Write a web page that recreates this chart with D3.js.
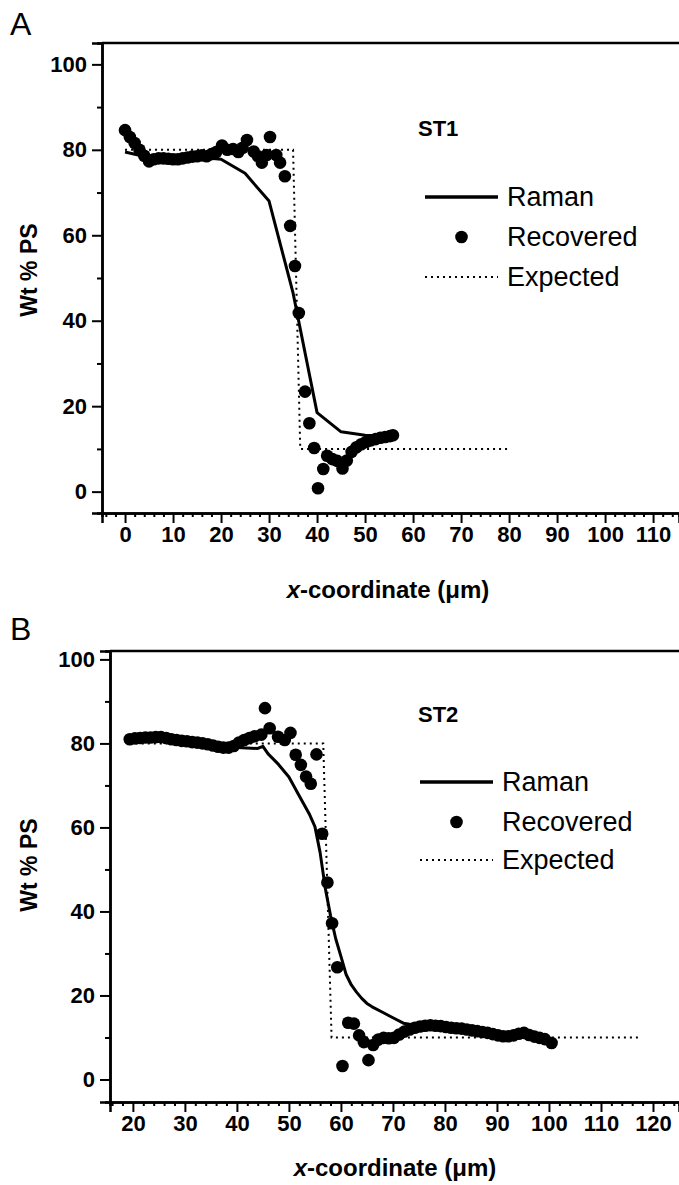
<!DOCTYPE html>
<html>
<head>
<meta charset="utf-8">
<script src="https://cdn.jsdelivr.net/npm/d3@7"></script>
<style>
  body { margin: 0; background: #fff; }
  svg { display: block; font-family: "Liberation Sans", Arial, sans-serif; }
</style>
</head>
<body>
<script>
// ---- panel A (ST1) ----
var aRamanX = [0, 5, 10, 15, 20, 25, 30, 35, 40, 45, 50, 55];
var aRamanY = [79.5, 78.2, 77.8, 78.3, 77.8, 74.5, 68, 46.5, 18.5, 14, 13.2, 13];
var aRecX = [0, 1, 2, 3, 4, 5, 6, 7, 8, 9, 10, 11, 12, 13, 14, 15, 16, 17, 18, 19,
  20.2, 21.3, 22.5, 23.6, 24.5, 25.4, 26.8, 27.7, 28.5, 29.5, 30.2, 31.5, 32.3, 33.3,
  34.4, 35.4, 36.2, 37.5, 38.4, 39.4, 40.2, 41.3, 42.1, 43.2, 44.2, 45.3, 46.2, 47.2,
  48.2, 49.2, 50.2, 51.2, 52.2, 53.2, 54.2, 55.2, 55.8];
var aRecY = [84.6, 83.0, 81.6, 80.0, 78.6, 77.3, 77.8, 78.0, 78.0, 77.9, 77.8, 77.8,
  78.0, 78.2, 78.4, 78.5, 78.7, 78.5, 79.0, 79.5,
  81.0, 80.0, 80.2, 79.5, 80.5, 82.3, 79.6, 78.5, 77.0, 78.8, 83.0, 78.8, 77.0, 73.8,
  62.2, 52.8, 41.8, 23.4, 16.0, 10.2, 0.8, 5.3, 8.4, 7.6, 7.2, 5.4, 7.3, 9.3,
  10.4, 11.1, 11.6, 12.0, 12.3, 12.6, 12.8, 13.0, 13.2];
var aExpX = [0, 35, 36.5, 80];
var aExpY = [80, 80, 10, 10];

// ---- panel B (ST2) ----
var bRamanX = [20, 25, 30, 35, 40, 44, 45, 46, 48, 50, 52, 54, 55, 56, 57, 58, 59, 60,
  61, 62, 63, 64, 65, 66, 68, 70, 72, 75, 80, 85, 90, 95, 100];
var bRamanY = [80.5, 80.8, 80.3, 79.6, 79, 78.8, 79.3, 77.5, 75, 72, 67.5, 63, 60.2, 54,
  45.5, 39, 33.5, 29.3, 25, 22.5, 20.8, 19.3, 18.1, 17.3, 16, 14.7, 13.4, 12.8, 12.3,
  11.8, 11, 10.5, 9.5];
var bRecX = [19.4, 20.4, 21.4, 22.4, 23.4, 24.4, 25.4, 26.4, 27.4, 28.4, 29.4, 30.4,
  31.4, 32.4, 33.4, 34.4, 35.4, 36.4, 37.4, 38.4, 39.4, 40.4, 41.4, 42.4, 43.4,
  44.7, 45.4, 46.3, 47.9, 49.2, 50.3, 51.3, 52.3, 53.3, 54.2, 55.3, 56.4, 57.4, 58.3,
  59.3, 60.3, 61.4, 62.5, 63.5, 64.4, 65.3, 66.2, 67.2, 68.2, 69.2, 70.2, 71.2, 72.2,
  73.2, 74.2, 75.2, 76.2, 77.2, 78.2, 79.2, 80.2, 81.2, 82.2, 83.2, 84.2, 85.2, 86.2,
  87.2, 88.2, 89.2, 90.2, 91.2, 92.2, 93.2, 94.2, 95.2, 96.2, 97.2, 98.2, 99.2, 100.5];
var bRecY = [81.0, 81.2, 81.3, 81.4, 81.4, 81.5, 81.5, 81.3, 81.0, 80.8, 80.6, 80.5,
  80.3, 80.2, 80.0, 79.8, 79.5, 79.2, 79.0, 79.0, 79.4, 80.2, 80.8, 81.3, 81.7,
  82.1, 88.4, 83.6, 81.6, 80.8, 82.5, 77.3, 74.9, 72.1, 70.4, 77.4, 58.5, 46.9, 37.2,
  26.7, 3.2, 13.5, 13.3, 10.5, 8.9, 4.6, 8.2, 9.5, 9.9, 9.8, 9.9, 10.7, 11.4,
  11.9, 12.3, 12.6, 12.8, 12.9, 12.8, 12.7, 12.5, 12.3, 12.2, 12.1, 11.9, 11.7, 11.5,
  11.3, 11.1, 10.8, 10.5, 10.3, 10.3, 10.5, 10.9, 11.1, 10.6, 10.2, 9.9, 9.6, 8.7];
var bExpX = [19.4, 56.6, 58.2, 117.2];
var bExpY = [80, 80, 10, 10];

var legendNames = ["Raman", "Recovered", "Expected"];
var yMajor = [0, 20, 40, 60, 80, 100];
var yMinor = [10, 30, 50, 70, 90];

var W = 679, H = 1185;
var svg = d3.select("body").append("svg").attr("width", W).attr("height", H);

function zip(xs, ys) { return xs.map(function(x, i){ return [x, ys[i]]; }); }

function drawPanel(p) {
  var g = svg.append("g");
  var x = d3.scaleLinear().domain(p.xDom).range([p.left, W]);
  var y = d3.scaleLinear().domain(p.yDom).range([p.bottom, p.top]);

  // top frame line
  g.append("line").attr("x1", p.left).attr("x2", W).attr("y1", p.top).attr("y2", p.top)
    .attr("stroke", "#000").attr("stroke-width", 2.5);

  var xMinor = d3.range(Math.ceil(p.xDom[0] / 2) * 2, p.xDom[1], 2).filter(function(v){ return v % 10 !== 0; });

  g.append("g").attr("transform", "translate(0," + p.bottom + ")")
    .call(d3.axisBottom(x).tickValues(xMinor).tickSize(4).tickFormat(""));
  g.append("g").attr("class", "lab").attr("transform", "translate(0," + p.bottom + ")")
    .call(d3.axisBottom(x).tickValues(p.xLabels).tickSize(10).tickPadding(3).tickFormat(d3.format("d")));
  g.append("g").attr("transform", "translate(" + p.left + ",0)")
    .call(d3.axisLeft(y).tickValues(yMinor).tickSize(5).tickFormat(""));
  g.append("g").attr("class", "lab").attr("transform", "translate(" + p.left + ",0)")
    .call(d3.axisLeft(y).tickValues(yMajor).tickSize(10).tickPadding(5).tickFormat(d3.format("d")));

  g.selectAll(".domain").attr("stroke-width", 2.5);
  g.selectAll(".tick line").attr("stroke-width", 2);
  g.selectAll(".lab text").attr("font-size", 22).attr("font-weight", "bold")
    .attr("font-family", "'Liberation Sans', Arial, sans-serif");

  var line = d3.line().x(function(d){ return x(d[0]); }).y(function(d){ return y(d[1]); });

  g.append("path").attr("d", line(zip(p.expX, p.expY)))
    .attr("fill", "none").attr("stroke", "#000").attr("stroke-width", 2)
    .attr("stroke-dasharray", "2,4");
  g.append("path").attr("d", line(zip(p.ramX, p.ramY)))
    .attr("fill", "none").attr("stroke", "#000").attr("stroke-width", 3)
    .attr("stroke-linejoin", "round");
  g.selectAll("circle.rec").data(zip(p.recX, p.recY)).enter().append("circle")
    .attr("class", "rec")
    .attr("cx", function(d){ return x(d[0]); })
    .attr("cy", function(d){ return y(d[1]); })
    .attr("r", 6.3).attr("fill", "#000");

  // legend
  var lg = g.append("g");
  var lx0 = p.legX, lx1 = p.legX + 73;
  lg.append("line").attr("x1", lx0).attr("x2", lx1).attr("y1", p.legY[0]).attr("y2", p.legY[0])
    .attr("stroke", "#000").attr("stroke-width", 3.5);
  lg.append("circle").attr("cx", (lx0 + lx1) / 2).attr("cy", p.legY[1]).attr("r", 6.3);
  lg.append("line").attr("x1", lx0).attr("x2", lx1).attr("y1", p.legY[2]).attr("y2", p.legY[2])
    .attr("stroke", "#000").attr("stroke-width", 2).attr("stroke-dasharray", "2,4");
  legendNames.forEach(function(n, i){
    lg.append("text").attr("x", lx1 + 9).attr("y", p.legY[i] + 9)
      .attr("font-size", 27).text(n);
  });

  g.append("text").attr("x", p.stX).attr("y", p.stY).attr("font-size", 22)
    .attr("font-weight", "bold").text(p.name);

  g.append("text").attr("x", 10).attr("y", p.letterY).attr("font-size", 32).text(p.letter);

  g.append("text").attr("transform", "translate(" + 37 + "," + p.yTitleY + ") rotate(-90)")
    .attr("text-anchor", "middle").attr("font-size", 23).attr("font-weight", "bold")
    .text("Wt % PS");

  var xt = g.append("text").attr("x", p.xTitleX).attr("y", p.xTitleY).attr("text-anchor", "middle")
    .attr("font-size", 24).attr("font-weight", "bold");
  xt.append("tspan").attr("font-style", "italic").text("x");
  xt.append("tspan").text("-coordinate (\u03bcm)");
}

drawPanel({
  name: "ST1", letter: "A",
  xDom: [-4.8, 115.4], yDom: [-5, 105],
  left: 102, top: 43, bottom: 513,
  xLabels: [0, 10, 20, 30, 40, 50, 60, 70, 80, 90, 100, 110],
  ramX: aRamanX, ramY: aRamanY, recX: aRecX, recY: aRecY, expX: aExpX, expY: aExpY,
  legX: 425, legY: [197, 237, 277],
  stX: 418, stY: 136, letterY: 35, yTitleY: 270, xTitleX: 388, xTitleY: 598
});

drawPanel({
  name: "ST2", letter: "B",
  xDom: [15.6, 125], yDom: [-5.36, 102],
  left: 110, top: 651, bottom: 1102,
  xLabels: [20, 30, 40, 50, 60, 70, 80, 90, 100, 110, 120],
  ramX: bRamanX, ramY: bRamanY, recX: bRecX, recY: bRecY, expX: bExpX, expY: bExpY,
  legX: 420, legY: [782, 822, 860],
  stX: 418, stY: 722, letterY: 640, yTitleY: 865, xTitleX: 395, xTitleY: 1176
});
</script>
</body>
</html>
